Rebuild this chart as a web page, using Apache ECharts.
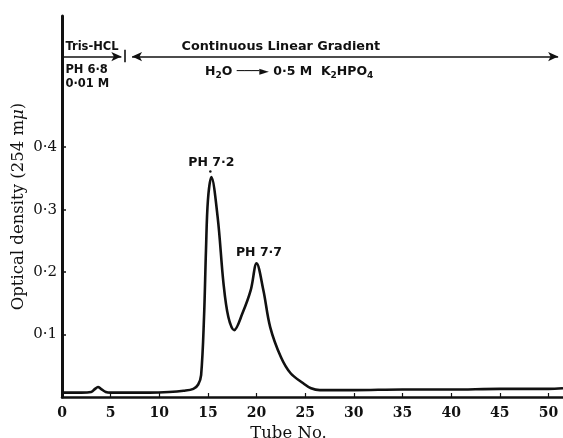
<!DOCTYPE html>
<html><head><meta charset="utf-8">
<script src="https://cdn.jsdelivr.net/npm/echarts@6/dist/echarts.min.js"></script>
<style>html,body{margin:0;padding:0;background:#fff}#c{width:563px;height:438px}</style>
</head><body><div id="c"></div>
<script>
// Data
const tubes = [0, 1, 2, 3, 3.4, 3.7, 4.0, 4.5, 5, 7, 9, 11, 12.5, 13.5, 14.0, 14.3, 14.6, 14.8, 15.0, 15.35, 16.0, 16.6, 17.1, 17.7, 18.55, 19.4, 20.0, 20.7, 21.4, 22.5, 23.5, 24.8, 25.6, 26.5, 30, 35, 40, 45, 50, 51.5];
const density = [0.007, 0.007, 0.007, 0.008, 0.013, 0.016, 0.013, 0.008, 0.007, 0.007, 0.007, 0.008, 0.010, 0.013, 0.020, 0.035, 0.128, 0.235, 0.315, 0.352, 0.288, 0.182, 0.128, 0.107, 0.134, 0.171, 0.214, 0.171, 0.112, 0.064, 0.038, 0.022, 0.014, 0.011, 0.011, 0.012, 0.012, 0.013, 0.013, 0.014];
const xTicks = [0, 5, 10, 15, 20, 25, 30, 35, 40, 45, 50];
const yTicks = [0.1, 0.2, 0.3, 0.4];
const xTitle = 'Tube No.';
const yTitle = 'Optical density (254 m{i|μ})';
const bufferLines = ['Tris-HCL', 'PH 6·8', '0·01 M'];
const gradientTitle = 'Continuous Linear Gradient';
const gradientText = '{b|H}{s|2}{b|O ───► 0·5 M  K}{s|2}{b|HPO}{s|4}';
const peakLabels = ['PH 7·2', 'PH 7·7'];
const peakTubes = [15.3, 20.3];
const peakValues = [0.352, 0.214];

const chart = echarts.init(document.getElementById('c'), null, {renderer: 'canvas'});
const serif = 'DejaVu Serif';
const sans = 'DejaVu Sans';
const annFont = {fontFamily: sans, fontWeight: 'bold', fontSize: 11.5, color: '#111'};
const arrowY = 0.545;

function textPt(x, y, txt, pos, extra) {
  return {coord: [x, y], symbol: 'circle', symbolSize: 0,
    label: Object.assign({show: true, formatter: txt, position: pos || 'inside', distance: 0}, annFont, extra || {})};
}

const option = {
  animation: false,
  backgroundColor: '#fff',
  grid: {left: 62, right: 0, top: 16, bottom: 41, outerBoundsMode: 'none', containLabel: false},
  xAxis: {
    type: 'value', min: 0, max: 51.5,
    name: xTitle, nameLocation: 'middle', nameGap: 26,
    nameTextStyle: {fontFamily: serif, fontSize: 16.5, color: '#111', padding: [0, 48, 0, 0]},
    axisLine: {onZero: false, lineStyle: {color: '#111', width: 2.5}},
    axisTick: {inside: true, length: 4, customValues: xTicks, lineStyle: {color: '#111', width: 1.2}},
    axisLabel: {customValues: xTicks, margin: 9, fontFamily: serif, fontSize: 14, color: '#111', fontWeight: 'bold'},
    splitLine: {show: false}
  },
  yAxis: {
    type: 'value', min: 0, max: 0.61,
    name: yTitle, nameLocation: 'middle', nameRotate: 90, nameGap: 35, nameMoveOverlap: false,
    nameTextStyle: {fontFamily: serif, fontSize: 16.5, color: '#111',
      rich: {i: {fontFamily: serif, fontSize: 16.5, fontStyle: 'italic', color: '#111'}}},
    axisLine: {lineStyle: {color: '#111', width: 3}},
    axisTick: {inside: true, length: 4, customValues: yTicks, lineStyle: {color: '#111', width: 1.5}},
    axisLabel: {customValues: yTicks, margin: 5, fontFamily: serif, fontSize: 15, color: '#111',
      formatter: v => v.toFixed(1).replace('.', '·')},
    splitLine: {show: false}
  },
  series: [{
    type: 'line',
    data: tubes.map((t, i) => [t, density[i]]),
    smooth: 0.35,
    showSymbol: false,
    lineStyle: {color: '#111', width: 2.6},
    markLine: {
      silent: true, animation: false,
      label: {show: false},
      lineStyle: {color: '#111', width: 1.6, type: 'solid'},
      symbolSize: [7, 10],
      data: [
        [{coord: [0, arrowY], symbol: 'none'}, {coord: [6.1, arrowY], symbol: 'arrow'}],
        [{coord: [6.4, 0.536], symbol: 'none'}, {coord: [6.4, 0.556], symbol: 'none'}],
        [{coord: [7.2, arrowY], symbol: 'arrow'}, {coord: [51.0, arrowY], symbol: 'arrow'}]
      ]
    },
    markPoint: {
      silent: true, animation: false,
      itemStyle: {color: '#111'},
      data: [
        textPt(0.35, 0.56, bufferLines[0], 'right'),
        textPt(0.35, 0.524, bufferLines[1], 'right'),
        textPt(0.35, 0.501, bufferLines[2], 'right'),
        textPt(22.5, 0.561, gradientTitle, 'inside', {fontSize: 12.8}),
        textPt(14.7, 0.52, gradientText, 'right', {rich: {
          b: {fontFamily: sans, fontWeight: 'bold', fontSize: 12.5, color: '#111'},
          s: {fontFamily: sans, fontWeight: 'bold', fontSize: 9, color: '#111', padding: [6, 0, 0, 0]}
        }}),
        textPt(peakTubes[0] + 0.05, peakValues[0] + 0.023, peakLabels[0], 'inside', {fontSize: 12.5}),
        textPt(peakTubes[1] - 0.05, peakValues[1] + 0.017, peakLabels[1], 'inside', {fontSize: 12.5}),
        {coord: [peakTubes[0] - 0.05, peakValues[0] + 0.009], symbol: 'circle', symbolSize: 2.5, label: {show: false}}
      ]
    }
  }]
};
chart.setOption(option);
</script></body></html>
